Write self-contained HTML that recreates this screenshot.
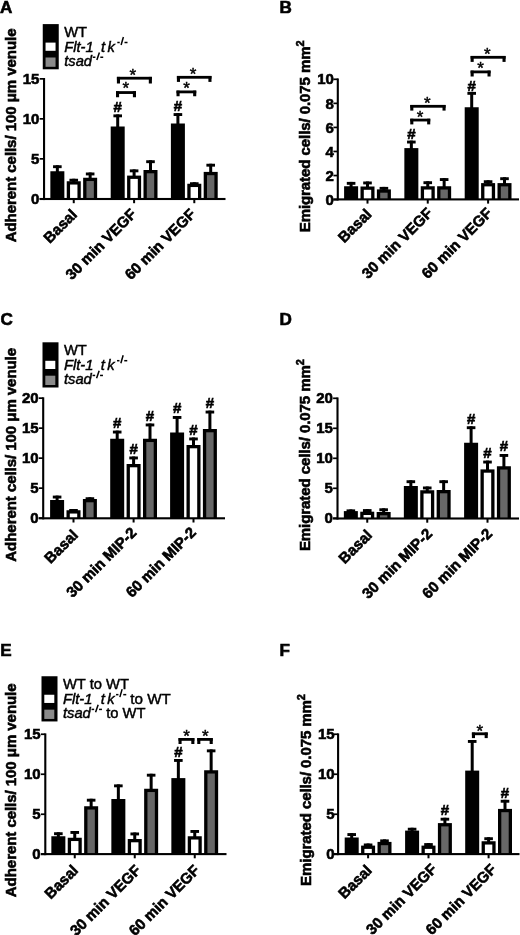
<!DOCTYPE html>
<html><head><meta charset="utf-8"><style>
html,body{margin:0;padding:0;background:#fff;}
svg{display:block;will-change:transform;filter:blur(0.35px);}
text{font-family:"Liberation Sans", sans-serif;fill:#000;stroke:#000;stroke-width:0.6px;}
text.r{stroke-width:0.45px;}
</style></head><body>
<svg width="520" height="935" viewBox="0 0 520 935">
<rect width="520" height="935" fill="#fff"/>
<rect x="43.00" y="78.00" width="2.10" height="122.05" fill="#000"/>
<rect x="39.65" y="198.00" width="4.40" height="1.70" fill="#000"/>
<text x="39.45" y="204.01" font-size="15.0" font-weight="bold" text-anchor="end">0</text>
<rect x="39.65" y="158.00" width="4.40" height="1.70" fill="#000"/>
<text x="39.45" y="164.01" font-size="15.0" font-weight="bold" text-anchor="end">5</text>
<rect x="39.65" y="118.00" width="4.40" height="1.70" fill="#000"/>
<text x="39.45" y="124.01" font-size="15.0" font-weight="bold" text-anchor="end">10</text>
<rect x="39.65" y="78.00" width="4.40" height="1.70" fill="#000"/>
<text x="39.45" y="84.01" font-size="15.0" font-weight="bold" text-anchor="end">15</text>
<rect x="39.65" y="197.95" width="185.85" height="2.10" fill="#000"/>
<rect x="72.75" y="199.00" width="2.00" height="4.20" fill="#000"/>
<rect x="55.85" y="165.25" width="3.00" height="7.00" fill="#000"/>
<rect x="53.05" y="165.25" width="8.60" height="2.90" fill="#000"/>
<rect x="50.35" y="171.25" width="14.00" height="27.75" fill="#000"/>
<rect x="72.25" y="178.75" width="3.00" height="3.50" fill="#000"/>
<rect x="69.45" y="178.75" width="8.60" height="2.90" fill="#000"/>
<rect x="66.75" y="181.25" width="14.00" height="17.75" fill="#000"/>
<rect x="70.05" y="184.55" width="7.40" height="13.40" fill="#fff"/>
<rect x="88.65" y="172.50" width="3.00" height="6.25" fill="#000"/>
<rect x="85.85" y="172.50" width="8.60" height="2.90" fill="#000"/>
<rect x="83.15" y="177.75" width="14.00" height="21.25" fill="#000"/>
<rect x="86.45" y="181.05" width="7.40" height="16.90" fill="#676767"/>
<rect x="133.10" y="199.00" width="2.00" height="4.20" fill="#000"/>
<rect x="116.20" y="114.40" width="3.00" height="13.10" fill="#000"/>
<rect x="113.40" y="114.40" width="8.60" height="2.90" fill="#000"/>
<rect x="110.70" y="126.50" width="14.00" height="72.50" fill="#000"/>
<rect x="132.60" y="169.40" width="3.00" height="7.20" fill="#000"/>
<rect x="129.80" y="169.40" width="8.60" height="2.90" fill="#000"/>
<rect x="127.10" y="175.60" width="14.00" height="23.40" fill="#000"/>
<rect x="130.40" y="178.90" width="7.40" height="19.05" fill="#fff"/>
<rect x="149.00" y="160.25" width="3.00" height="10.75" fill="#000"/>
<rect x="146.20" y="160.25" width="8.60" height="2.90" fill="#000"/>
<rect x="143.50" y="170.00" width="14.00" height="29.00" fill="#000"/>
<rect x="146.80" y="173.30" width="7.40" height="24.65" fill="#676767"/>
<text x="117.70" y="111.81" font-size="15.0" font-weight="bold" text-anchor="middle">#</text>
<rect x="116.90" y="76.80" width="35.00" height="2.80" fill="#000"/>
<rect x="116.90" y="76.90" width="3.10" height="6.60" fill="#000"/>
<rect x="148.80" y="76.90" width="3.10" height="6.60" fill="#000"/>
<text x="132.90" y="80.75" font-size="17.0" font-weight="normal" text-anchor="middle" class="r">*</text>
<rect x="116.00" y="91.15" width="20.00" height="2.80" fill="#000"/>
<rect x="116.00" y="91.25" width="3.10" height="6.00" fill="#000"/>
<rect x="132.90" y="91.25" width="3.10" height="6.00" fill="#000"/>
<text x="125.90" y="94.35" font-size="17.0" font-weight="normal" text-anchor="middle" class="r">*</text>
<rect x="193.30" y="199.00" width="2.00" height="4.20" fill="#000"/>
<rect x="176.40" y="113.10" width="3.00" height="11.40" fill="#000"/>
<rect x="173.60" y="113.10" width="8.60" height="2.90" fill="#000"/>
<rect x="170.90" y="123.50" width="14.00" height="75.50" fill="#000"/>
<rect x="192.80" y="182.25" width="3.00" height="2.50" fill="#000"/>
<rect x="190.00" y="182.25" width="8.60" height="2.90" fill="#000"/>
<rect x="187.30" y="183.75" width="14.00" height="15.25" fill="#000"/>
<rect x="190.60" y="187.05" width="7.40" height="10.90" fill="#fff"/>
<rect x="209.20" y="163.75" width="3.00" height="9.15" fill="#000"/>
<rect x="206.40" y="163.75" width="8.60" height="2.90" fill="#000"/>
<rect x="203.70" y="171.90" width="14.00" height="27.10" fill="#000"/>
<rect x="207.00" y="175.20" width="7.40" height="22.75" fill="#676767"/>
<text x="177.90" y="110.56" font-size="15.0" font-weight="bold" text-anchor="middle">#</text>
<rect x="176.90" y="75.90" width="34.60" height="2.80" fill="#000"/>
<rect x="176.90" y="76.00" width="3.10" height="5.90" fill="#000"/>
<rect x="208.40" y="76.00" width="3.10" height="5.90" fill="#000"/>
<text x="193.10" y="80.10" font-size="17.0" font-weight="normal" text-anchor="middle" class="r">*</text>
<rect x="176.50" y="90.50" width="19.75" height="2.80" fill="#000"/>
<rect x="176.50" y="90.60" width="3.10" height="5.65" fill="#000"/>
<rect x="193.15" y="90.60" width="3.10" height="5.65" fill="#000"/>
<text x="186.50" y="93.85" font-size="17.0" font-weight="normal" text-anchor="middle" class="r">*</text>
<text x="16.00" y="135.40" font-size="15.0" font-weight="bold" text-anchor="middle" transform="rotate(-90 16.00 135.40)" textLength="213.8">Adherent cells/ 100 μm venule</text>
<text x="77.95" y="215.60" font-size="15.0" font-weight="bold" text-anchor="end" transform="rotate(-45 77.95 215.60)">Basal</text>
<text x="137.20" y="215.10" font-size="15.0" font-weight="bold" text-anchor="end" transform="rotate(-45 137.20 215.10)">30 min VEGF</text>
<text x="196.40" y="215.10" font-size="15.0" font-weight="bold" text-anchor="end" transform="rotate(-45 196.40 215.10)">60 min VEGF</text>
<text x="0.00" y="12.50" font-size="17.1" font-weight="bold" text-anchor="start">A</text>
<rect x="336.75" y="78.45" width="2.10" height="122.00" fill="#000"/>
<rect x="333.40" y="198.75" width="4.40" height="1.70" fill="#000"/>
<text x="333.90" y="204.76" font-size="15.0" font-weight="bold" text-anchor="end">0</text>
<rect x="333.40" y="174.69" width="4.40" height="1.70" fill="#000"/>
<text x="333.90" y="180.70" font-size="15.0" font-weight="bold" text-anchor="end">2</text>
<rect x="333.40" y="150.63" width="4.40" height="1.70" fill="#000"/>
<text x="333.90" y="156.64" font-size="15.0" font-weight="bold" text-anchor="end">4</text>
<rect x="333.40" y="126.57" width="4.40" height="1.70" fill="#000"/>
<text x="333.90" y="132.58" font-size="15.0" font-weight="bold" text-anchor="end">6</text>
<rect x="333.40" y="102.51" width="4.40" height="1.70" fill="#000"/>
<text x="333.90" y="108.52" font-size="15.0" font-weight="bold" text-anchor="end">8</text>
<rect x="333.40" y="78.45" width="4.40" height="1.70" fill="#000"/>
<text x="333.90" y="84.46" font-size="15.0" font-weight="bold" text-anchor="end">10</text>
<rect x="333.40" y="198.35" width="185.60" height="2.10" fill="#000"/>
<rect x="366.50" y="199.40" width="2.00" height="4.20" fill="#000"/>
<rect x="349.60" y="181.90" width="3.00" height="5.35" fill="#000"/>
<rect x="346.80" y="181.90" width="8.60" height="2.90" fill="#000"/>
<rect x="344.10" y="186.25" width="14.00" height="13.15" fill="#000"/>
<rect x="366.00" y="181.50" width="3.00" height="6.00" fill="#000"/>
<rect x="363.20" y="181.50" width="8.60" height="2.90" fill="#000"/>
<rect x="360.50" y="186.50" width="14.00" height="12.90" fill="#000"/>
<rect x="363.80" y="189.80" width="7.40" height="8.55" fill="#fff"/>
<rect x="382.40" y="186.90" width="3.00" height="3.50" fill="#000"/>
<rect x="379.60" y="186.90" width="8.60" height="2.90" fill="#000"/>
<rect x="376.90" y="189.40" width="14.00" height="10.00" fill="#000"/>
<rect x="380.20" y="192.70" width="7.40" height="5.65" fill="#676767"/>
<rect x="426.75" y="199.40" width="2.00" height="4.20" fill="#000"/>
<rect x="409.85" y="140.60" width="3.00" height="8.50" fill="#000"/>
<rect x="407.05" y="140.60" width="8.60" height="2.90" fill="#000"/>
<rect x="404.35" y="148.10" width="14.00" height="51.30" fill="#000"/>
<rect x="426.25" y="181.25" width="3.00" height="6.00" fill="#000"/>
<rect x="423.45" y="181.25" width="8.60" height="2.90" fill="#000"/>
<rect x="420.75" y="186.25" width="14.00" height="13.15" fill="#000"/>
<rect x="424.05" y="189.55" width="7.40" height="8.80" fill="#fff"/>
<rect x="442.65" y="178.10" width="3.00" height="9.15" fill="#000"/>
<rect x="439.85" y="178.10" width="8.60" height="2.90" fill="#000"/>
<rect x="437.15" y="186.25" width="14.00" height="13.15" fill="#000"/>
<rect x="440.45" y="189.55" width="7.40" height="8.80" fill="#676767"/>
<text x="411.35" y="139.31" font-size="15.0" font-weight="bold" text-anchor="middle">#</text>
<rect x="410.25" y="104.90" width="35.35" height="2.80" fill="#000"/>
<rect x="410.25" y="105.00" width="3.10" height="5.60" fill="#000"/>
<rect x="442.50" y="105.00" width="3.10" height="5.60" fill="#000"/>
<text x="427.25" y="109.10" font-size="17.0" font-weight="normal" text-anchor="middle" class="r">*</text>
<rect x="410.25" y="118.65" width="20.00" height="2.80" fill="#000"/>
<rect x="410.25" y="118.75" width="3.10" height="5.65" fill="#000"/>
<rect x="427.15" y="118.75" width="3.10" height="5.65" fill="#000"/>
<text x="420.00" y="122.60" font-size="17.0" font-weight="normal" text-anchor="middle" class="r">*</text>
<rect x="487.10" y="199.40" width="2.00" height="4.20" fill="#000"/>
<rect x="470.20" y="91.90" width="3.00" height="16.35" fill="#000"/>
<rect x="467.40" y="91.90" width="8.60" height="2.90" fill="#000"/>
<rect x="464.70" y="107.25" width="14.00" height="92.15" fill="#000"/>
<rect x="486.60" y="180.25" width="3.00" height="3.85" fill="#000"/>
<rect x="483.80" y="180.25" width="8.60" height="2.90" fill="#000"/>
<rect x="481.10" y="183.10" width="14.00" height="16.30" fill="#000"/>
<rect x="484.40" y="186.40" width="7.40" height="11.95" fill="#fff"/>
<rect x="503.00" y="177.25" width="3.00" height="6.85" fill="#000"/>
<rect x="500.20" y="177.25" width="8.60" height="2.90" fill="#000"/>
<rect x="497.50" y="183.10" width="14.00" height="16.30" fill="#000"/>
<rect x="500.80" y="186.40" width="7.40" height="11.95" fill="#676767"/>
<text x="471.70" y="90.56" font-size="15.0" font-weight="bold" text-anchor="middle">#</text>
<rect x="470.60" y="55.90" width="35.00" height="2.80" fill="#000"/>
<rect x="470.60" y="56.00" width="3.10" height="5.90" fill="#000"/>
<rect x="502.50" y="56.00" width="3.10" height="5.90" fill="#000"/>
<text x="487.25" y="59.85" font-size="17.0" font-weight="normal" text-anchor="middle" class="r">*</text>
<rect x="470.60" y="70.50" width="20.00" height="2.80" fill="#000"/>
<rect x="470.60" y="70.60" width="3.10" height="5.90" fill="#000"/>
<rect x="487.50" y="70.60" width="3.10" height="5.90" fill="#000"/>
<text x="480.60" y="73.85" font-size="17.0" font-weight="normal" text-anchor="middle" class="r">*</text>
<text x="310.40" y="136.40" font-size="15.0" font-weight="bold" text-anchor="middle" transform="rotate(-90 310.40 136.40)" textLength="191.8">Emigrated cells/ 0.075 mm<tspan font-size="10.8" dy="-6">2</tspan></text>
<text x="372.50" y="215.20" font-size="15.0" font-weight="bold" text-anchor="end" transform="rotate(-45 372.50 215.20)">Basal</text>
<text x="433.55" y="214.00" font-size="15.0" font-weight="bold" text-anchor="end" transform="rotate(-45 433.55 214.00)">30 min VEGF</text>
<text x="493.10" y="214.10" font-size="15.0" font-weight="bold" text-anchor="end" transform="rotate(-45 493.10 214.10)">60 min VEGF</text>
<text x="279.50" y="12.50" font-size="17.1" font-weight="bold" text-anchor="start">B</text>
<rect x="42.15" y="397.30" width="2.10" height="122.05" fill="#000"/>
<rect x="38.80" y="517.30" width="4.40" height="1.70" fill="#000"/>
<text x="38.60" y="523.31" font-size="15.0" font-weight="bold" text-anchor="end">0</text>
<rect x="38.80" y="487.30" width="4.40" height="1.70" fill="#000"/>
<text x="38.60" y="493.31" font-size="15.0" font-weight="bold" text-anchor="end">5</text>
<rect x="38.80" y="457.30" width="4.40" height="1.70" fill="#000"/>
<text x="38.60" y="463.31" font-size="15.0" font-weight="bold" text-anchor="end">10</text>
<rect x="38.80" y="427.30" width="4.40" height="1.70" fill="#000"/>
<text x="38.60" y="433.31" font-size="15.0" font-weight="bold" text-anchor="end">15</text>
<rect x="38.80" y="397.30" width="4.40" height="1.70" fill="#000"/>
<text x="38.60" y="403.31" font-size="15.0" font-weight="bold" text-anchor="end">20</text>
<rect x="38.80" y="517.25" width="186.20" height="2.10" fill="#000"/>
<rect x="72.50" y="518.30" width="2.00" height="4.20" fill="#000"/>
<rect x="55.60" y="495.60" width="3.00" height="5.40" fill="#000"/>
<rect x="52.80" y="495.60" width="8.60" height="2.90" fill="#000"/>
<rect x="50.10" y="500.00" width="14.00" height="18.30" fill="#000"/>
<rect x="72.00" y="509.00" width="3.00" height="2.25" fill="#000"/>
<rect x="69.20" y="509.00" width="8.60" height="2.90" fill="#000"/>
<rect x="66.50" y="510.25" width="14.00" height="8.05" fill="#000"/>
<rect x="69.80" y="513.55" width="7.40" height="3.70" fill="#fff"/>
<rect x="88.40" y="497.25" width="3.00" height="2.75" fill="#000"/>
<rect x="85.60" y="497.25" width="8.60" height="2.90" fill="#000"/>
<rect x="82.90" y="499.00" width="14.00" height="19.30" fill="#000"/>
<rect x="86.20" y="502.30" width="7.40" height="14.95" fill="#676767"/>
<rect x="132.60" y="518.30" width="2.00" height="4.20" fill="#000"/>
<rect x="115.70" y="430.60" width="3.00" height="9.15" fill="#000"/>
<rect x="112.90" y="430.60" width="8.60" height="2.90" fill="#000"/>
<rect x="110.20" y="438.75" width="14.00" height="79.55" fill="#000"/>
<rect x="132.10" y="456.50" width="3.00" height="8.50" fill="#000"/>
<rect x="129.30" y="456.50" width="8.60" height="2.90" fill="#000"/>
<rect x="126.60" y="464.00" width="14.00" height="54.30" fill="#000"/>
<rect x="129.90" y="467.30" width="7.40" height="49.95" fill="#fff"/>
<rect x="148.50" y="423.50" width="3.00" height="16.25" fill="#000"/>
<rect x="145.70" y="423.50" width="8.60" height="2.90" fill="#000"/>
<rect x="143.00" y="438.75" width="14.00" height="79.55" fill="#000"/>
<rect x="146.30" y="442.05" width="7.40" height="75.20" fill="#676767"/>
<text x="117.20" y="427.81" font-size="15.0" font-weight="bold" text-anchor="middle">#</text>
<text x="133.60" y="454.06" font-size="15.0" font-weight="bold" text-anchor="middle">#</text>
<text x="150.00" y="420.56" font-size="15.0" font-weight="bold" text-anchor="middle">#</text>
<rect x="192.50" y="518.30" width="2.00" height="4.20" fill="#000"/>
<rect x="175.60" y="416.00" width="3.00" height="17.50" fill="#000"/>
<rect x="172.80" y="416.00" width="8.60" height="2.90" fill="#000"/>
<rect x="170.10" y="432.50" width="14.00" height="85.80" fill="#000"/>
<rect x="192.00" y="437.50" width="3.00" height="8.50" fill="#000"/>
<rect x="189.20" y="437.50" width="8.60" height="2.90" fill="#000"/>
<rect x="186.50" y="445.00" width="14.00" height="73.30" fill="#000"/>
<rect x="189.80" y="448.30" width="7.40" height="68.95" fill="#fff"/>
<rect x="208.40" y="410.60" width="3.00" height="19.40" fill="#000"/>
<rect x="205.60" y="410.60" width="8.60" height="2.90" fill="#000"/>
<rect x="202.90" y="429.00" width="14.00" height="89.30" fill="#000"/>
<rect x="206.20" y="432.30" width="7.40" height="84.95" fill="#676767"/>
<text x="177.10" y="413.06" font-size="15.0" font-weight="bold" text-anchor="middle">#</text>
<text x="193.50" y="434.96" font-size="15.0" font-weight="bold" text-anchor="middle">#</text>
<text x="209.90" y="408.06" font-size="15.0" font-weight="bold" text-anchor="middle">#</text>
<text x="16.00" y="454.80" font-size="15.0" font-weight="bold" text-anchor="middle" transform="rotate(-90 16.00 454.80)" textLength="213.8">Adherent cells/ 100 μm venule</text>
<text x="78.90" y="536.00" font-size="15.0" font-weight="bold" text-anchor="end" transform="rotate(-45 78.90 536.00)">Basal</text>
<text x="137.40" y="533.50" font-size="15.0" font-weight="bold" text-anchor="end" transform="rotate(-45 137.40 533.50)">30 min MIP-2</text>
<text x="196.80" y="533.40" font-size="15.0" font-weight="bold" text-anchor="end" transform="rotate(-45 196.80 533.40)">60 min MIP-2</text>
<text x="0.60" y="324.90" font-size="17.1" font-weight="bold" text-anchor="start">C</text>
<rect x="336.45" y="397.45" width="2.10" height="122.10" fill="#000"/>
<rect x="333.10" y="517.45" width="4.40" height="1.70" fill="#000"/>
<text x="332.90" y="523.46" font-size="15.0" font-weight="bold" text-anchor="end">0</text>
<rect x="333.10" y="487.45" width="4.40" height="1.70" fill="#000"/>
<text x="332.90" y="493.46" font-size="15.0" font-weight="bold" text-anchor="end">5</text>
<rect x="333.10" y="457.45" width="4.40" height="1.70" fill="#000"/>
<text x="332.90" y="463.46" font-size="15.0" font-weight="bold" text-anchor="end">10</text>
<rect x="333.10" y="427.45" width="4.40" height="1.70" fill="#000"/>
<text x="332.90" y="433.46" font-size="15.0" font-weight="bold" text-anchor="end">15</text>
<rect x="333.10" y="397.45" width="4.40" height="1.70" fill="#000"/>
<text x="332.90" y="403.46" font-size="15.0" font-weight="bold" text-anchor="end">20</text>
<rect x="333.10" y="517.45" width="185.90" height="2.10" fill="#000"/>
<rect x="366.25" y="518.50" width="2.00" height="4.20" fill="#000"/>
<rect x="349.35" y="509.40" width="3.00" height="2.70" fill="#000"/>
<rect x="346.55" y="509.40" width="8.60" height="2.90" fill="#000"/>
<rect x="343.85" y="511.10" width="14.00" height="7.40" fill="#000"/>
<rect x="365.75" y="509.10" width="3.00" height="3.60" fill="#000"/>
<rect x="362.95" y="509.10" width="8.60" height="2.90" fill="#000"/>
<rect x="360.25" y="511.70" width="14.00" height="6.80" fill="#000"/>
<rect x="363.55" y="515.00" width="7.40" height="2.45" fill="#fff"/>
<rect x="382.15" y="508.30" width="3.00" height="4.70" fill="#000"/>
<rect x="379.35" y="508.30" width="8.60" height="2.90" fill="#000"/>
<rect x="376.65" y="512.00" width="14.00" height="6.50" fill="#000"/>
<rect x="379.95" y="515.30" width="7.40" height="2.15" fill="#676767"/>
<rect x="426.25" y="518.50" width="2.00" height="4.20" fill="#000"/>
<rect x="409.35" y="480.25" width="3.00" height="6.75" fill="#000"/>
<rect x="406.55" y="480.25" width="8.60" height="2.90" fill="#000"/>
<rect x="403.85" y="486.00" width="14.00" height="32.50" fill="#000"/>
<rect x="425.75" y="486.50" width="3.00" height="4.75" fill="#000"/>
<rect x="422.95" y="486.50" width="8.60" height="2.90" fill="#000"/>
<rect x="420.25" y="490.25" width="14.00" height="28.25" fill="#000"/>
<rect x="423.55" y="493.55" width="7.40" height="23.90" fill="#fff"/>
<rect x="442.15" y="480.25" width="3.00" height="10.75" fill="#000"/>
<rect x="439.35" y="480.25" width="8.60" height="2.90" fill="#000"/>
<rect x="436.65" y="490.00" width="14.00" height="28.50" fill="#000"/>
<rect x="439.95" y="493.30" width="7.40" height="24.15" fill="#676767"/>
<rect x="486.50" y="518.50" width="2.00" height="4.20" fill="#000"/>
<rect x="469.60" y="426.25" width="3.00" height="17.50" fill="#000"/>
<rect x="466.80" y="426.25" width="8.60" height="2.90" fill="#000"/>
<rect x="464.10" y="442.75" width="14.00" height="75.75" fill="#000"/>
<rect x="486.00" y="460.60" width="3.00" height="9.80" fill="#000"/>
<rect x="483.20" y="460.60" width="8.60" height="2.90" fill="#000"/>
<rect x="480.50" y="469.40" width="14.00" height="49.10" fill="#000"/>
<rect x="483.80" y="472.70" width="7.40" height="44.75" fill="#fff"/>
<rect x="502.40" y="454.00" width="3.00" height="13.25" fill="#000"/>
<rect x="499.60" y="454.00" width="8.60" height="2.90" fill="#000"/>
<rect x="496.90" y="466.25" width="14.00" height="52.25" fill="#000"/>
<rect x="500.20" y="469.55" width="7.40" height="47.90" fill="#676767"/>
<text x="471.10" y="423.67" font-size="15.0" font-weight="bold" text-anchor="middle">#</text>
<text x="487.50" y="457.81" font-size="15.0" font-weight="bold" text-anchor="middle">#</text>
<text x="503.90" y="451.17" font-size="15.0" font-weight="bold" text-anchor="middle">#</text>
<text x="309.90" y="455.20" font-size="15.0" font-weight="bold" text-anchor="middle" transform="rotate(-90 309.90 455.20)" textLength="191.8">Emigrated cells/ 0.075 mm<tspan font-size="10.8" dy="-6">2</tspan></text>
<text x="373.05" y="536.10" font-size="15.0" font-weight="bold" text-anchor="end" transform="rotate(-45 373.05 536.10)">Basal</text>
<text x="433.15" y="534.70" font-size="15.0" font-weight="bold" text-anchor="end" transform="rotate(-45 433.15 534.70)">30 min MIP-2</text>
<text x="493.10" y="534.60" font-size="15.0" font-weight="bold" text-anchor="end" transform="rotate(-45 493.10 534.60)">60 min MIP-2</text>
<text x="279.50" y="324.90" font-size="17.1" font-weight="bold" text-anchor="start">D</text>
<rect x="44.25" y="733.40" width="2.10" height="121.75" fill="#000"/>
<rect x="40.90" y="853.40" width="4.40" height="1.70" fill="#000"/>
<text x="40.70" y="859.41" font-size="15.0" font-weight="bold" text-anchor="end">0</text>
<rect x="40.90" y="813.40" width="4.40" height="1.70" fill="#000"/>
<text x="40.70" y="819.41" font-size="15.0" font-weight="bold" text-anchor="end">5</text>
<rect x="40.90" y="773.40" width="4.40" height="1.70" fill="#000"/>
<text x="40.70" y="779.41" font-size="15.0" font-weight="bold" text-anchor="end">10</text>
<rect x="40.90" y="733.40" width="4.40" height="1.70" fill="#000"/>
<text x="40.70" y="739.41" font-size="15.0" font-weight="bold" text-anchor="end">15</text>
<rect x="40.90" y="853.05" width="185.60" height="2.10" fill="#000"/>
<rect x="73.75" y="854.10" width="2.00" height="4.20" fill="#000"/>
<rect x="56.85" y="832.25" width="3.00" height="5.00" fill="#000"/>
<rect x="54.05" y="832.25" width="8.60" height="2.90" fill="#000"/>
<rect x="51.35" y="836.25" width="14.00" height="17.85" fill="#000"/>
<rect x="73.25" y="831.00" width="3.00" height="7.75" fill="#000"/>
<rect x="70.45" y="831.00" width="8.60" height="2.90" fill="#000"/>
<rect x="67.75" y="837.75" width="14.00" height="16.35" fill="#000"/>
<rect x="71.05" y="841.05" width="7.40" height="12.00" fill="#fff"/>
<rect x="89.65" y="798.75" width="3.00" height="8.50" fill="#000"/>
<rect x="86.85" y="798.75" width="8.60" height="2.90" fill="#000"/>
<rect x="84.15" y="806.25" width="14.00" height="47.85" fill="#000"/>
<rect x="87.45" y="809.55" width="7.40" height="43.50" fill="#676767"/>
<rect x="133.75" y="854.10" width="2.00" height="4.20" fill="#000"/>
<rect x="116.85" y="784.40" width="3.00" height="15.60" fill="#000"/>
<rect x="114.05" y="784.40" width="8.60" height="2.90" fill="#000"/>
<rect x="111.35" y="799.00" width="14.00" height="55.10" fill="#000"/>
<rect x="133.25" y="832.50" width="3.00" height="7.50" fill="#000"/>
<rect x="130.45" y="832.50" width="8.60" height="2.90" fill="#000"/>
<rect x="127.75" y="839.00" width="14.00" height="15.10" fill="#000"/>
<rect x="131.05" y="842.30" width="7.40" height="10.75" fill="#fff"/>
<rect x="149.65" y="773.75" width="3.00" height="16.00" fill="#000"/>
<rect x="146.85" y="773.75" width="8.60" height="2.90" fill="#000"/>
<rect x="144.15" y="788.75" width="14.00" height="65.35" fill="#000"/>
<rect x="147.45" y="792.05" width="7.40" height="61.00" fill="#676767"/>
<rect x="193.75" y="854.10" width="2.00" height="4.20" fill="#000"/>
<rect x="176.85" y="759.00" width="3.00" height="20.10" fill="#000"/>
<rect x="174.05" y="759.00" width="8.60" height="2.90" fill="#000"/>
<rect x="171.35" y="778.10" width="14.00" height="76.00" fill="#000"/>
<rect x="193.25" y="830.00" width="3.00" height="7.25" fill="#000"/>
<rect x="190.45" y="830.00" width="8.60" height="2.90" fill="#000"/>
<rect x="187.75" y="836.25" width="14.00" height="17.85" fill="#000"/>
<rect x="191.05" y="839.55" width="7.40" height="13.50" fill="#fff"/>
<rect x="209.65" y="749.40" width="3.00" height="21.85" fill="#000"/>
<rect x="206.85" y="749.40" width="8.60" height="2.90" fill="#000"/>
<rect x="204.15" y="770.25" width="14.00" height="83.85" fill="#000"/>
<rect x="207.45" y="773.55" width="7.40" height="79.50" fill="#676767"/>
<text x="178.35" y="757.07" font-size="15.0" font-weight="bold" text-anchor="middle">#</text>
<rect x="178.50" y="738.00" width="15.90" height="2.80" fill="#000"/>
<rect x="178.50" y="738.10" width="3.10" height="5.90" fill="#000"/>
<rect x="191.30" y="738.10" width="3.10" height="5.90" fill="#000"/>
<text x="186.50" y="742.35" font-size="17.0" font-weight="normal" text-anchor="middle" class="r">*</text>
<rect x="197.25" y="738.00" width="15.50" height="2.80" fill="#000"/>
<rect x="197.25" y="738.10" width="3.10" height="5.90" fill="#000"/>
<rect x="209.65" y="738.10" width="3.10" height="5.90" fill="#000"/>
<text x="205.25" y="742.35" font-size="17.0" font-weight="normal" text-anchor="middle" class="r">*</text>
<text x="16.50" y="790.30" font-size="15.0" font-weight="bold" text-anchor="middle" transform="rotate(-90 16.50 790.30)" textLength="213.8">Adherent cells/ 100 μm venule</text>
<text x="79.05" y="871.40" font-size="15.0" font-weight="bold" text-anchor="end" transform="rotate(-45 79.05 871.40)">Basal</text>
<text x="141.75" y="871.20" font-size="15.0" font-weight="bold" text-anchor="end" transform="rotate(-45 141.75 871.20)">30 min VEGF</text>
<text x="200.55" y="871.20" font-size="15.0" font-weight="bold" text-anchor="end" transform="rotate(-45 200.55 871.20)">60 min VEGF</text>
<text x="0.25" y="655.60" font-size="17.1" font-weight="bold" text-anchor="start">E</text>
<rect x="337.05" y="733.40" width="2.10" height="121.75" fill="#000"/>
<rect x="333.70" y="853.40" width="4.40" height="1.70" fill="#000"/>
<text x="334.70" y="859.41" font-size="15.0" font-weight="bold" text-anchor="end">0</text>
<rect x="333.70" y="813.40" width="4.40" height="1.70" fill="#000"/>
<text x="334.70" y="819.41" font-size="15.0" font-weight="bold" text-anchor="end">5</text>
<rect x="333.70" y="773.40" width="4.40" height="1.70" fill="#000"/>
<text x="334.70" y="779.41" font-size="15.0" font-weight="bold" text-anchor="end">10</text>
<rect x="333.70" y="733.40" width="4.40" height="1.70" fill="#000"/>
<text x="334.70" y="739.41" font-size="15.0" font-weight="bold" text-anchor="end">15</text>
<rect x="333.70" y="853.05" width="185.80" height="2.10" fill="#000"/>
<rect x="367.10" y="854.10" width="2.00" height="4.20" fill="#000"/>
<rect x="350.20" y="833.10" width="3.00" height="5.40" fill="#000"/>
<rect x="347.40" y="833.10" width="8.60" height="2.90" fill="#000"/>
<rect x="344.70" y="837.50" width="14.00" height="16.60" fill="#000"/>
<rect x="366.60" y="843.50" width="3.00" height="3.10" fill="#000"/>
<rect x="363.80" y="843.50" width="8.60" height="2.90" fill="#000"/>
<rect x="361.10" y="845.60" width="14.00" height="8.50" fill="#000"/>
<rect x="364.40" y="848.90" width="7.40" height="4.15" fill="#fff"/>
<rect x="383.00" y="839.40" width="3.00" height="3.50" fill="#000"/>
<rect x="380.20" y="839.40" width="8.60" height="2.90" fill="#000"/>
<rect x="377.50" y="841.90" width="14.00" height="12.20" fill="#000"/>
<rect x="380.80" y="845.20" width="7.40" height="7.85" fill="#676767"/>
<rect x="427.50" y="854.10" width="2.00" height="4.20" fill="#000"/>
<rect x="410.60" y="827.75" width="3.00" height="3.85" fill="#000"/>
<rect x="407.80" y="827.75" width="8.60" height="2.90" fill="#000"/>
<rect x="405.10" y="830.60" width="14.00" height="23.50" fill="#000"/>
<rect x="427.00" y="843.10" width="3.00" height="3.50" fill="#000"/>
<rect x="424.20" y="843.10" width="8.60" height="2.90" fill="#000"/>
<rect x="421.50" y="845.60" width="14.00" height="8.50" fill="#000"/>
<rect x="424.80" y="848.90" width="7.40" height="4.15" fill="#fff"/>
<rect x="443.40" y="817.75" width="3.00" height="6.35" fill="#000"/>
<rect x="440.60" y="817.75" width="8.60" height="2.90" fill="#000"/>
<rect x="437.90" y="823.10" width="14.00" height="31.00" fill="#000"/>
<rect x="441.20" y="826.40" width="7.40" height="26.65" fill="#676767"/>
<text x="444.90" y="815.32" font-size="15.0" font-weight="bold" text-anchor="middle">#</text>
<rect x="487.60" y="854.10" width="2.00" height="4.20" fill="#000"/>
<rect x="470.70" y="740.00" width="3.00" height="31.60" fill="#000"/>
<rect x="467.90" y="740.00" width="8.60" height="2.90" fill="#000"/>
<rect x="465.20" y="770.60" width="14.00" height="83.50" fill="#000"/>
<rect x="487.10" y="837.25" width="3.00" height="5.00" fill="#000"/>
<rect x="484.30" y="837.25" width="8.60" height="2.90" fill="#000"/>
<rect x="481.60" y="841.25" width="14.00" height="12.85" fill="#000"/>
<rect x="484.90" y="844.55" width="7.40" height="8.50" fill="#fff"/>
<rect x="503.50" y="799.80" width="3.00" height="10.10" fill="#000"/>
<rect x="500.70" y="799.80" width="8.60" height="2.90" fill="#000"/>
<rect x="498.00" y="808.90" width="14.00" height="45.20" fill="#000"/>
<rect x="501.30" y="812.20" width="7.40" height="40.85" fill="#676767"/>
<text x="505.00" y="797.67" font-size="15.0" font-weight="bold" text-anchor="middle">#</text>
<rect x="471.90" y="732.40" width="15.85" height="2.80" fill="#000"/>
<rect x="471.90" y="732.50" width="3.10" height="5.60" fill="#000"/>
<rect x="484.65" y="732.50" width="3.10" height="5.60" fill="#000"/>
<text x="479.75" y="736.95" font-size="17.0" font-weight="normal" text-anchor="middle" class="r">*</text>
<text x="311.00" y="790.00" font-size="15.0" font-weight="bold" text-anchor="middle" transform="rotate(-90 311.00 790.00)" textLength="191.8">Emigrated cells/ 0.075 mm<tspan font-size="10.8" dy="-6">2</tspan></text>
<text x="372.80" y="871.30" font-size="15.0" font-weight="bold" text-anchor="end" transform="rotate(-45 372.80 871.30)">Basal</text>
<text x="437.80" y="870.00" font-size="15.0" font-weight="bold" text-anchor="end" transform="rotate(-45 437.80 870.00)">30 min VEGF</text>
<text x="497.20" y="870.20" font-size="15.0" font-weight="bold" text-anchor="end" transform="rotate(-45 497.20 870.20)">60 min VEGF</text>
<text x="279.50" y="655.60" font-size="17.1" font-weight="bold" text-anchor="start">F</text>
<rect x="42.75" y="24.10" width="16.00" height="45.20" fill="#000"/>
<rect x="45.55" y="42.60" width="10.00" height="8.20" fill="#fff"/>
<rect x="45.55" y="57.50" width="10.00" height="9.30" fill="#8a8a8a"/>
<text class="r" x="64.20" y="36.70" font-size="14.75">WT</text>
<text class="r" x="64.20" y="51.80" font-size="14.75" font-style="italic">Flt-1</text>
<text class="r" x="101.10" y="51.80" font-size="14.75" font-style="italic" letter-spacing="2.2">tk</text>
<rect x="117.30" y="41.75" width="2.40" height="1.50" fill="#000"/>
<rect x="124.50" y="41.75" width="3.00" height="1.50" fill="#000"/>
<path d="M123.40 37.00 L121.10 45.00" stroke="#000" stroke-width="1.5" stroke-linecap="butt"/>
<text class="r" x="64.20" y="66.10" font-size="14.75" font-style="italic">tsad</text>
<rect x="92.80" y="56.50" width="2.60" height="1.50" fill="#000"/>
<rect x="100.30" y="56.50" width="2.90" height="1.50" fill="#000"/>
<path d="M99.40 52.50 L96.85 60.00" stroke="#000" stroke-width="1.5" stroke-linecap="butt"/>
<rect x="42.50" y="342.30" width="16.00" height="45.20" fill="#000"/>
<rect x="45.30" y="360.80" width="10.00" height="8.20" fill="#fff"/>
<rect x="45.30" y="375.70" width="10.00" height="9.30" fill="#8a8a8a"/>
<text class="r" x="63.95" y="354.90" font-size="14.75">WT</text>
<text class="r" x="63.95" y="370.00" font-size="14.75" font-style="italic">Flt-1</text>
<text class="r" x="100.85" y="370.00" font-size="14.75" font-style="italic" letter-spacing="2.2">tk</text>
<rect x="117.05" y="359.95" width="2.40" height="1.50" fill="#000"/>
<rect x="124.25" y="359.95" width="3.00" height="1.50" fill="#000"/>
<path d="M123.15 355.20 L120.85 363.20" stroke="#000" stroke-width="1.5" stroke-linecap="butt"/>
<text class="r" x="63.95" y="384.30" font-size="14.75" font-style="italic">tsad</text>
<rect x="92.55" y="374.70" width="2.60" height="1.50" fill="#000"/>
<rect x="100.05" y="374.70" width="2.90" height="1.50" fill="#000"/>
<path d="M99.15 370.70 L96.60 378.20" stroke="#000" stroke-width="1.5" stroke-linecap="butt"/>
<rect x="41.50" y="676.25" width="16.00" height="45.20" fill="#000"/>
<rect x="44.30" y="694.75" width="10.00" height="8.20" fill="#fff"/>
<rect x="44.30" y="709.65" width="10.00" height="9.30" fill="#8a8a8a"/>
<text class="r" x="62.95" y="688.85" font-size="14.75">WT to WT</text>
<text class="r" x="62.95" y="703.95" font-size="14.75" font-style="italic">Flt-1</text>
<text class="r" x="100.85" y="703.95" font-size="14.75" font-style="italic" letter-spacing="2.2">tk</text>
<rect x="116.05" y="693.90" width="2.40" height="1.50" fill="#000"/>
<rect x="123.25" y="693.90" width="3.00" height="1.50" fill="#000"/>
<path d="M122.15 689.15 L119.85 697.15" stroke="#000" stroke-width="1.5" stroke-linecap="butt"/>
<text class="r" x="130.35" y="703.95" font-size="15.2">to WT</text>
<text class="r" x="62.95" y="718.25" font-size="14.75" font-style="italic">tsad</text>
<rect x="91.55" y="708.65" width="2.60" height="1.50" fill="#000"/>
<rect x="99.05" y="708.65" width="2.90" height="1.50" fill="#000"/>
<path d="M98.15 704.65 L95.60 712.15" stroke="#000" stroke-width="1.5" stroke-linecap="butt"/>
<text class="r" x="106.15" y="718.25" font-size="14.75">to WT</text>
</svg></body></html>
